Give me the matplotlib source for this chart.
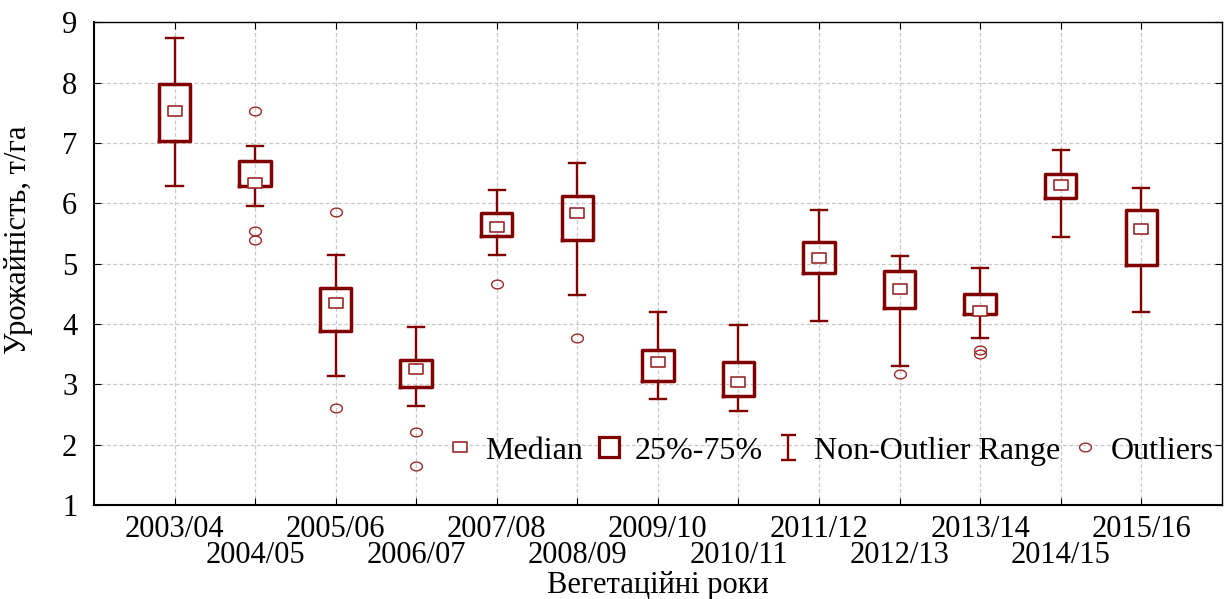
import numpy as np
import matplotlib
matplotlib.use('Agg')
import matplotlib.pyplot as plt
from matplotlib.lines import Line2D
from matplotlib.path import Path

# data (t/ha)
seasons = ['2003/04', '2004/05', '2005/06', '2006/07', '2007/08', '2008/09', '2009/10',
           '2010/11', '2011/12', '2012/13', '2013/14', '2014/15', '2015/16']
med = [7.53, 6.33, 4.34, 3.26, 5.61, 5.83, 3.37, 3.03, 5.09, 4.58, 4.21, 6.30, 5.58]
q1 = [7.03, 6.29, 3.88, 2.95, 5.45, 5.39, 3.06, 2.80, 4.84, 4.26, 4.16, 6.08, 4.97]
q3 = [7.98, 6.70, 4.60, 3.41, 5.83, 6.12, 3.56, 3.37, 5.35, 4.88, 4.49, 6.48, 5.88]
wlo = [6.29, 5.96, 3.13, 2.64, 5.14, 4.48, 2.76, 2.56, 4.04, 3.31, 3.77, 5.44, 4.19]
whi = [8.74, 6.95, 5.14, 3.95, 6.22, 6.67, 4.19, 3.98, 5.88, 5.12, 4.92, 6.88, 6.25]
outliers = [[], [7.53, 5.54, 5.39], [5.86, 2.60], [2.21, 1.64], [4.66], [3.76], [], [], [],
            [3.17], [3.57, 3.50], [], []]

red = '#800000'
red2 = '#9a2a2a'
font = 'Liberation Serif'
plt.rcParams['font.family'] = [font, 'DejaVu Serif']

# custom markers
rect_marker = Path([(-1.4, -1), (1.4, -1), (1.4, 1), (-1.4, 1), (-1.4, -1)],
                   [Path.MOVETO, Path.LINETO, Path.LINETO, Path.LINETO, Path.CLOSEPOLY])
t = np.linspace(0, 2 * np.pi, 40)
ell_marker = Path(np.column_stack([1.35 * np.cos(t), np.sin(t)]))
ibeam = Path([(-0.6, 1), (0.6, 1), (0, 1), (0, -1), (-0.6, -1), (0.6, -1)],
             [Path.MOVETO, Path.LINETO, Path.MOVETO, Path.LINETO, Path.MOVETO, Path.LINETO])

fig, ax = plt.subplots(figsize=(12.28, 5.99), dpi=100)
plt.subplots_adjust(left=0.0765, right=0.995, top=0.963, bottom=0.157)

pos = np.arange(1, len(seasons) + 1)
stats = []
for i in range(len(seasons)):
    stats.append({'med': med[i], 'q1': q1[i], 'q3': q3[i], 'whislo': wlo[i],
                  'whishi': whi[i], 'fliers': outliers[i]})

ax.bxp(stats, positions=pos, widths=0.39, capwidths=0.2, patch_artist=False,
       boxprops=dict(color=red, linewidth=2.5),
       whiskerprops=dict(color=red, linewidth=1.7),
       capprops=dict(color=red, linewidth=1.7),
       medianprops=dict(linewidth=0),
       flierprops=dict(marker=ell_marker, markersize=8.5, markerfacecolor='none',
                       markeredgecolor=red2, markeredgewidth=1.0, linestyle='none'),
       zorder=3)
ax.plot(pos, med, linestyle='none', marker=rect_marker, markersize=9.5,
        markerfacecolor='white', markeredgecolor=red2, markeredgewidth=1.2, zorder=4)

ax.set_xlim(0, len(seasons) + 1)
ax.set_ylim(1, 9)
ax.set_yticks(range(1, 10))
ax.set_xticks(pos)
ax.set_xticklabels(seasons)
ax.grid(True, color='#c8c8c8', linestyle=(0, (3, 2)), linewidth=0.9)
ax.set_axisbelow(True)
ax.tick_params(axis='x', labelsize=22, direction='in', length=5, top=True, pad=7)
ax.tick_params(axis='y', labelsize=22, direction='in', length=5, right=True, pad=12)
# every second label goes on a lower row
for tk in ax.xaxis.get_major_ticks()[1::2]:
    tk.set_pad(7 + 19)
for s in ['left', 'bottom']:
    ax.spines[s].set_linewidth(1.5)
for s in ['top', 'right']:
    ax.spines[s].set_linewidth(1.0)

ax.set_xlabel('Вегетаційні роки', fontsize=22)
ax.set_ylabel('Урожайність, т/га', fontsize=22)
ax.yaxis.set_label_coords(-0.054, 0.55)
ax.xaxis.set_label_coords(0.5, -0.137)

handles = [
    Line2D([], [], linestyle='none', marker=rect_marker, markersize=9.5,
           markerfacecolor='white', markeredgecolor=red2, markeredgewidth=1.2),
    Line2D([], [], linestyle='none', marker='s', markersize=15,
           markerfacecolor='white', markeredgecolor=red, markeredgewidth=2.3),
    Line2D([], [], linestyle='none', marker=ibeam, markersize=18,
           markerfacecolor='none', markeredgecolor=red, markeredgewidth=1.7),
    Line2D([], [], linestyle='none', marker=ell_marker, markersize=8.5,
           markerfacecolor='none', markeredgecolor=red2, markeredgewidth=1.0),
]
ax.legend(handles, ['Median', '25%-75%', 'Non-Outlier Range', 'Outliers'],
          ncol=4, loc='center right', bbox_to_anchor=(1.01, 0.112), frameon=False,
          fontsize=23, handlelength=1.0, handletextpad=0.3, columnspacing=0.3,
          borderpad=0.1)

plt.savefig('out.png', dpi=100)
